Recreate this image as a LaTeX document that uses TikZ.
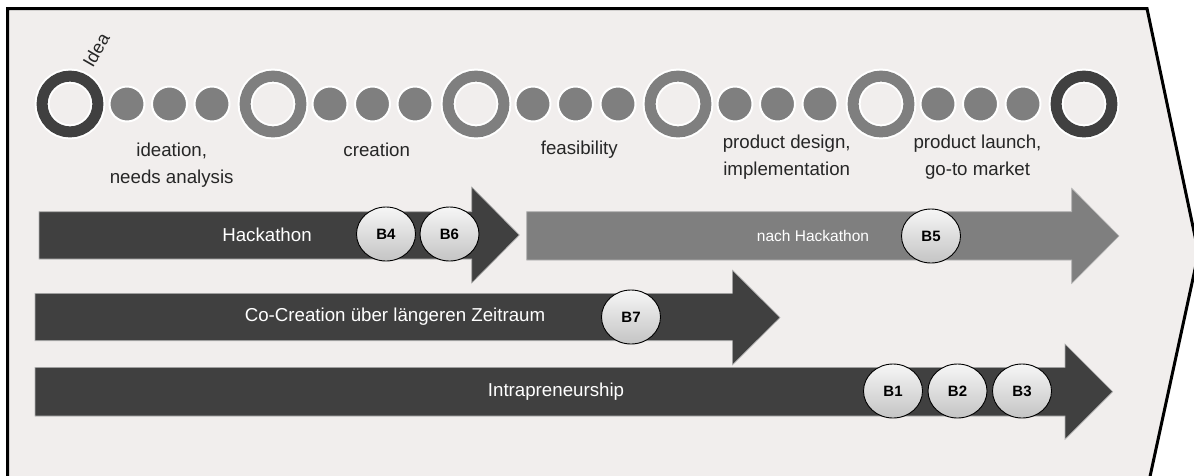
\documentclass[tikz,border=0pt]{standalone}
\usepackage{fontspec}
\setmainfont{Liberation Sans}
\usetikzlibrary{shapes.geometric}
\definecolor{panel}{RGB}{241,238,237}
\definecolor{darkbar}{RGB}{64,64,64}
\definecolor{midbar}{RGB}{127,127,127}
\definecolor{badgetop}{RGB}{246,246,246}
\definecolor{badgebot}{RGB}{196,196,196}
\begin{document}
\begin{tikzpicture}[x=1pt,y=-1pt,
  ring/.style={circle, inner sep=0pt, outer sep=0pt, minimum size=55.8pt,
    line width=11pt, preaction={draw=white, line width=15pt}},
  darkring/.style={ring, draw=darkbar},
  midring/.style={ring, draw=midbar},
  dot/.style={circle, inner sep=0pt, outer sep=0pt, minimum size=35pt,
    fill=midbar, draw=white, line width=2pt},
  phase/.style={align=center, text=black!85,
    font=\fontsize{18.7}{27}\selectfont},
  barlabel/.style={text=white, inner sep=0pt,
    font=\fontsize{18.7}{22}\selectfont},
  bararrow/.style={line width=0.6pt, draw=black!30},
  badge/.style={ellipse, inner sep=0pt, minimum width=59pt, minimum height=54pt,
    draw=black, line width=0.9pt, top color=badgetop, bottom color=badgebot,
    font=\bfseries\fontsize{15}{17}\selectfont}
]
\useasboundingbox (0,0) rectangle (1194,475);
\fill[white] (0,0) rectangle (1194,475);
\begin{scope}
  \clip (0,0) rectangle (1194,475);
  % pentagon-shaped panel, cut off at the right and bottom
  \path[fill=panel, draw=black, line width=3pt, line join=miter]
    (7.5,8.5) -- (1147,8.5) -- (1198.5,253) -- (1146,495) -- (7.5,495) -- cycle;
\end{scope}

% milestone rings and steps
\foreach \i/\x/\st in {1/70/darkring,2/273/midring,3/476/midring,4/678/midring,5/881/midring,6/1084/darkring}
  \node[\st] (r\i) at (\x,104) {};
\foreach \i/\x in {1/70,2/273,3/476,4/678,5/881}{
  \node[dot] (d\i a) at (\x+57,104) {};
  \node[dot] (d\i b) at (\x+99.5,104) {};
  \node[dot] (d\i c) at (\x+142,104) {};
}

\node[rotate=60, inner sep=0pt, text=black!85, font=\fontsize{18}{20}\selectfont] (idea) at (96,50) {Idea};

% phase labels
\node[phase] (p1) at (171.7,165) {ideation,\\needs analysis};
\node[phase] (p2) at (376.7,150) {creation};
\node[phase] (p3) at (579.3,150) {feasibility};
\node[phase] (p4) at (786.7,157) {product design,\\implementation};
\node[phase] (p5) at (977.5,157) {product launch,\\go-to market};

% process arrows
\fill[darkbar, bararrow] (39,211.7) -- (471.7,211.7) -- (471.7,187) -- (519.3,235)
  -- (471.7,283) -- (471.7,259) -- (39,259) -- cycle;
\fill[midbar, bararrow] (526.7,211.7) -- (1071.7,211.7) -- (1071.7,188.3) -- (1119,236)
  -- (1071.7,283.5) -- (1071.7,260) -- (526.7,260) -- cycle;
\fill[darkbar, bararrow] (35,293.3) -- (732.3,293.3) -- (732.3,270) -- (780,317.5)
  -- (732.3,365) -- (732.3,340.7) -- (35,340.7) -- cycle;
\fill[darkbar, bararrow] (35,367.3) -- (1065,367.3) -- (1065,344) -- (1112.7,391.7)
  -- (1065,439.3) -- (1065,416) -- (35,416) -- cycle;

% arrow labels
\node[barlabel] (hack) at (267,235) {Hackathon};
\node[barlabel, font=\fontsize{15.5}{18}\selectfont] (nach) at (813,236) {nach Hackathon};
\node[barlabel] (cocr) at (395,317) {Co-Creation über längeren Zeitraum};
\node[barlabel] (intra) at (556,392) {Intrapreneurship};

% case badges
\node[badge] (b4) at (386,234) {B4};
\node[badge] (b6) at (449.5,234) {B6};
\node[badge] (b5) at (931,236) {B5};
\node[badge] (b7) at (631,317) {B7};
\node[badge] (b1) at (893,391) {B1};
\node[badge] (b2) at (957.5,391) {B2};
\node[badge] (b3) at (1022,391) {B3};
\end{tikzpicture}
\end{document}
